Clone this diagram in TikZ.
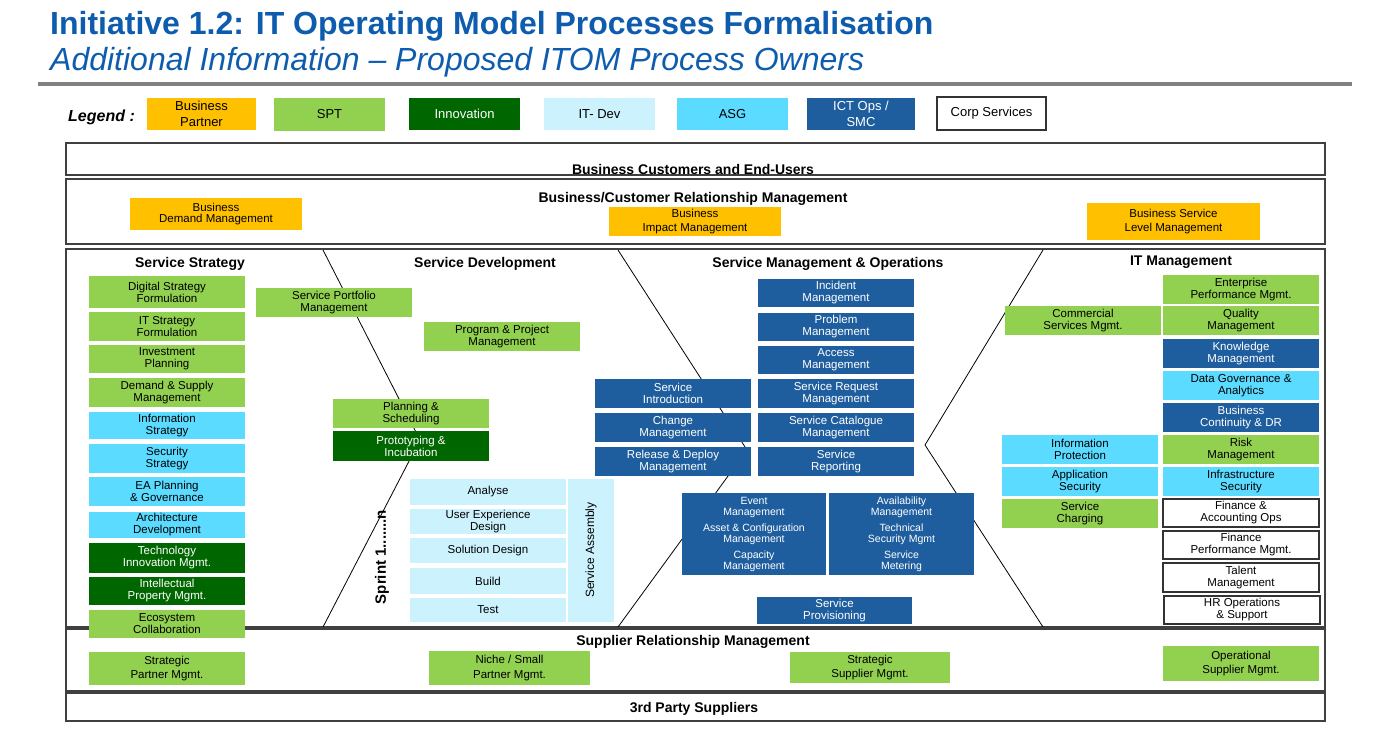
\documentclass[tikz,border=0pt]{standalone}
\usepackage{fontspec}
\setmainfont{Liberation Sans}
\definecolor{titleblue}{HTML}{0E5CAD}
\definecolor{bporange}{HTML}{FFC000}
\definecolor{sptgreen}{HTML}{92D050}
\definecolor{innov}{HTML}{006600}
\definecolor{itdev}{HTML}{CCF2FD}
\definecolor{asgc}{HTML}{5BDBFF}
\definecolor{ictblue}{HTML}{1F5E9E}
\definecolor{rulegray}{HTML}{808080}
\newcommand\fs[2]{\fontsize{#1}{#2}\selectfont}
\newcommand\bx[7]{\pgfmathsetmacro\bxw{#5-#3}\pgfmathsetmacro\bxh{#6-#4}%
  \node[#2,minimum width=\bxw pt,minimum height=\bxh pt] (#1) at ({(#3+#5)/2},{(#4+#6)/2}) {#7};}
\tikzset{
  bx/.style={inner sep=0pt, outer sep=0pt, align=center, font=\fs{11.5}{12}},
  spt/.style={bx, fill=sptgreen},
  inn/.style={bx, fill=innov, text=white},
  itd/.style={bx, fill=itdev},
  asg/.style={bx, fill=asgc},
  ict/.style={bx, fill=ictblue, text=white},
  corp/.style={bx, fill=white, draw=black!80, line width=1.1pt},
  bp/.style={bx, fill=bporange},
  lg/.style={font=\fs{13}{15.5}},
  band/.style={inner sep=0pt, outer sep=0pt, draw=black!75, line width=1.3pt},
  hd/.style={font=\bfseries\fs{14}{16}, inner sep=0pt},
  divline/.style={draw=black, line width=0.8pt},
  sup/.style={bx, fill=sptgreen, font=\fs{11.5}{14.5}},
}
\begin{document}
\begin{tikzpicture}[x=1pt,y=-1pt]
\useasboundingbox (0,0) rectangle (1381,738);
% title
\node[anchor=base west, inner sep=0pt, text=titleblue, font=\bfseries\fs{32}{36}] (title) at (50,35) {Initiative 1.2: IT Operating Model Processes Formalisation};
\node[anchor=base west, inner sep=0pt, text=titleblue, font=\itshape\fs{32}{36}] (subtitle) at (50,71) {Additional Information -- Proposed ITOM Process Owners};
\draw[rulegray, line width=4pt] (38,84) -- (1352,84);
% legend
\node[anchor=base west, inner sep=0pt, font=\bfseries\itshape\fs{16}{18}] (legend) at (68,122) {Legend :};
\bx{lbp}{bp,lg}{147}{98}{256}{130}{Business\\Partner}
\bx{lspt}{spt,lg}{274}{98}{385}{131}{SPT}
\bx{linn}{inn,lg}{409}{98}{520}{130}{Innovation}
\bx{litd}{itd,lg}{544}{98}{655}{130}{IT- Dev}
\bx{lasg}{asg,lg}{677}{98}{788}{130}{ASG}
\bx{lict}{ict,lg}{807}{98}{915}{130}{ICT Ops /\\SMC}
\bx{lcorp}{corp,lg}{937}{97}{1046}{130}{Corp Services}
% bands
\bx{band1}{band}{66}{143}{1325}{175}{}
\bx{band2}{band}{66}{179}{1325}{244}{}
\bx{mainarea}{band}{66}{249}{1325}{627}{}
\bx{band3}{band}{66}{629}{1325}{691}{}
\bx{band4}{band}{66}{693}{1325}{721}{}
\node[hd] (h1) at (693,169) {Business Customers and End-Users};
\node[hd] (h2) at (693,199) {Business/Customer Relationship Management};
\node[hd] (h3) at (693,642) {Supplier Relationship Management};
\node[hd] (h4) at (694,709) {3rd Party Suppliers};
\node[hd] (hss) at (190,264) {Service Strategy};
\node[hd] (hsd) at (485,264) {Service Development};
\node[hd] (hsm) at (828,264) {Service Management \& Operations};
\node[hd] (hit) at (1181,262) {IT Management};
% business band boxes
\bx{bdm}{bp,font=\fs{11.5}{11.5}}{130}{198}{302}{230}{Business\\Demand Management}
\bx{bim}{bp,font=\fs{11.5}{14}}{609}{207}{781}{236}{Business\\Impact Management}
\bx{bslm}{bp,font=\fs{11.5}{14}}{1087}{203}{1260}{240}{Business Service\\Level Management}
% dividing lines
\draw[divline] (323,250) -- (420,440) -- (323,627);
\draw[divline] (618,250) -- (747,450) -- (618,627);
\draw[divline] (1043,250) -- (925,445) -- (1043,627);
% service strategy
\bx{ss1}{spt}{89}{276}{245}{308}{Digital Strategy\\Formulation}
\bx{ss2}{spt}{89}{312}{245}{341}{IT Strategy\\Formulation}
\bx{ss3}{spt}{89}{345}{245}{373}{Investment\\Planning}
\bx{ss4}{spt}{89}{378}{245}{407}{Demand \& Supply\\Management}
\bx{ss5}{asg}{89}{412}{245}{439}{Information\\Strategy}
\bx{ss6}{asg}{89}{444}{245}{473}{Security\\Strategy}
\bx{ss7}{asg}{89}{477}{245}{506}{EA Planning\\\& Governance}
\bx{ss8}{asg}{89}{512}{245}{538}{Architecture\\Development}
\bx{ss9}{inn}{89}{543}{245}{573}{Technology\\Innovation Mgmt.}
\bx{ss10}{inn}{89}{577}{245}{605}{Intellectual\\Property Mgmt.}
\bx{ss11}{spt}{89}{610}{245}{638}{Ecosystem\\Collaboration}
% service development
\bx{spm}{spt}{256}{288}{412}{317}{Service Portfolio\\Management}
\bx{ppm}{spt}{424}{322}{580}{351}{Program \& Project\\Management}
\bx{pls}{spt}{333}{399}{489}{428}{Planning \&\\Scheduling}
\bx{pti}{inn}{333}{431}{489}{461}{Prototyping \&\\Incubation}
\bx{an}{itd}{410}{479}{566}{505}{Analyse}
\bx{ux}{itd}{410}{509}{566}{534}{User Experience\\Design}
\bx{sd}{itd}{410}{538}{566}{563}{Solution Design}
\bx{bu}{itd}{410}{568}{566}{594}{Build}
\bx{te}{itd}{410}{598}{566}{622}{Test}
\bx{sa}{itd}{568}{479}{614}{622}{}
\node[rotate=90, inner sep=0pt, font=\fs{12}{14}] (satext) at (591,550) {Service Assembly};
\node[rotate=90, inner sep=0pt, font=\bfseries\fs{15}{17}] (sprint) at (382,557) {Sprint 1.......n};
% service management
\bx{sin}{ict}{595}{379}{751}{408}{Service\\Introduction}
\bx{chg}{ict}{595}{413}{751}{442}{Change\\Management}
\bx{rdm}{ict}{595}{447}{751}{476}{Release \& Deploy\\Management}
\bx{inc}{ict}{758}{279}{914}{307}{Incident\\Management}
\bx{prb}{ict}{758}{313}{914}{341}{Problem\\Management}
\bx{acc}{ict}{758}{346}{914}{374}{Access\\Management}
\bx{srm}{ict}{758}{379}{914}{408}{Service Request\\Management}
\bx{scm}{ict}{758}{413}{914}{442}{Service Catalogue\\Management}
\bx{srp}{ict}{758}{447}{914}{476}{Service\\Reporting}
\bx{evt}{ict,font=\fs{10.5}{11}}{682}{493}{826}{575}{Event\\Management\\[5pt]Asset \& Configuration\\Management\\[5pt]Capacity\\Management}
\bx{avl}{ict,font=\fs{10.5}{11}}{829}{493}{974}{575}{Availability\\Management\\[5pt]Technical\\Security Mgmt\\[5pt]Service\\Metering}
\bx{spv}{ict}{757}{597}{912}{624}{Service\\Provisioning}
% IT management
\bx{epm}{spt}{1163}{275}{1319}{304}{Enterprise\\Performance Mgmt.}
\bx{qm}{spt}{1163}{306}{1319}{335}{Quality\\Management}
\bx{km}{ict}{1163}{339}{1319}{368}{Knowledge\\Management}
\bx{dga}{asg}{1163}{371}{1319}{400}{Data Governance \&\\Analytics}
\bx{bcd}{ict}{1163}{403}{1319}{432}{Business\\Continuity \& DR}
\bx{rm}{spt}{1163}{435}{1319}{464}{Risk\\Management}
\bx{ins}{asg}{1163}{467}{1319}{496}{Infrastructure\\Security}
\bx{fao}{corp}{1163}{499}{1319}{527}{Finance \&\\Accounting Ops}
\bx{fpm}{corp}{1163}{531}{1319}{559}{Finance\\Performance Mgmt.}
\bx{tm}{corp}{1163}{563}{1319}{592}{Talent\\Management}
\bx{hro}{corp}{1164}{596}{1320}{624}{HR Operations\\\& Support}
\bx{csm}{spt}{1005}{306}{1161}{335}{Commercial\\Services Mgmt.}
\bx{ip}{asg}{1002}{435}{1158}{464}{Information\\Protection}
\bx{aps}{asg}{1002}{467}{1158}{496}{Application\\Security}
\bx{sc}{spt}{1002}{499}{1158}{528}{Service\\Charging}
% supplier band
\bx{stp}{sup}{89}{652}{245}{685}{Strategic\\Partner Mgmt.}
\bx{nsp}{sup}{429}{651}{590}{685}{Niche / Small\\Partner Mgmt.}
\bx{ssm}{sup}{790}{652}{950}{683}{Strategic\\Supplier Mgmt.}
\bx{osm}{sup}{1163}{646}{1319}{681}{Operational\\Supplier Mgmt.}
\end{tikzpicture}
\end{document}
